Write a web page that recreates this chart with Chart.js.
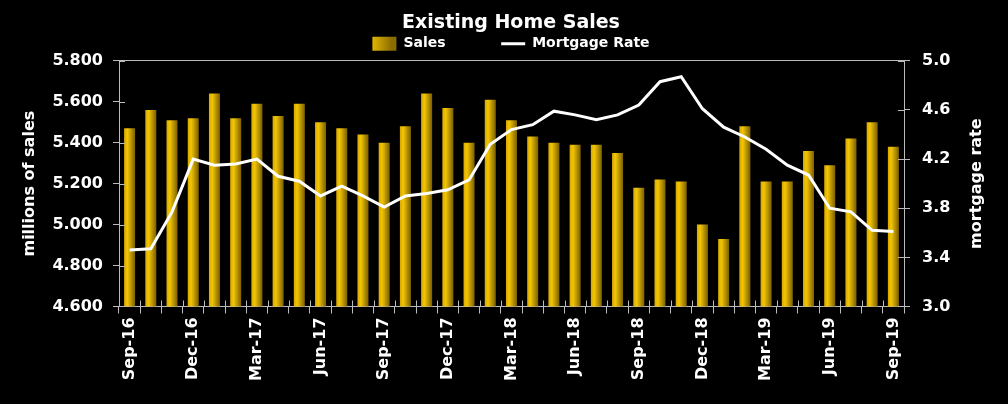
<!DOCTYPE html>
<html>
<head>
<meta charset="utf-8">
<script src="https://cdn.jsdelivr.net/npm/chart.js@4.4.1/dist/chart.umd.min.js"></script>
<style>
  html, body { margin: 0; padding: 0; background: #000; }
  #wrap { width: 1008px; height: 404px; }
</style>
</head>
<body>
<div id="wrap"><canvas id="homeSales"></canvas></div>
<script>
// monthly, Sep-16 .. Sep-19
var months = ["Sep-16","Oct-16","Nov-16","Dec-16","Jan-17","Feb-17","Mar-17","Apr-17","May-17","Jun-17",
    "Jul-17","Aug-17","Sep-17","Oct-17","Nov-17","Dec-17","Jan-18","Feb-18","Mar-18","Apr-18",
    "May-18","Jun-18","Jul-18","Aug-18","Sep-18","Oct-18","Nov-18","Dec-18","Jan-19","Feb-19",
    "Mar-19","Apr-19","May-19","Jun-19","Jul-19","Aug-19","Sep-19"];
var sales = [5.47, 5.56, 5.51, 5.52, 5.64, 5.52, 5.59, 5.53, 5.59, 5.50,
    5.47, 5.44, 5.40, 5.48, 5.64, 5.57, 5.40, 5.61, 5.51, 5.43,
    5.40, 5.39, 5.39, 5.35, 5.18, 5.22, 5.21, 5.00, 4.93, 5.48,
    5.21, 5.21, 5.36, 5.29, 5.42, 5.50, 5.38];
var mortgageRate = [3.46, 3.47, 3.77, 4.20, 4.15, 4.16, 4.20, 4.06, 4.02, 3.90,
    3.98, 3.90, 3.81, 3.90, 3.92, 3.95, 4.03, 4.32, 4.44, 4.48,
    4.59, 4.56, 4.52, 4.56, 4.64, 4.83, 4.87, 4.61, 4.46, 4.38,
    4.28, 4.15, 4.07, 3.80, 3.77, 3.62, 3.61];
// only every third month gets a label
var shownLabels = ["Sep-16","Dec-16","Mar-17","Jun-17","Sep-17","Dec-17","Mar-18","Jun-18","Sep-18","Dec-18","Mar-19","Jun-19","Sep-19"];
var salesTicks = [4.6, 4.8, 5.0, 5.2, 5.4, 5.6, 5.8];
var rateTicks = [3.0, 3.4, 3.8, 4.2, 4.6, 5.0];

var FONT = "'DejaVu Sans', sans-serif";
var BAR_PCT = 0.52;
var AXIS_GREY = '#bbb';

function goldBar(ctx) {
    var chart = ctx.chart;
    var xs = chart.scales.x;
    if (!xs || !chart.chartArea || ctx.dataIndex === undefined) return '#e0b400';
    var cx = xs.getPixelForValue(ctx.dataIndex);
    var half = xs.width / months.length * BAR_PCT / 2;
    var g = chart.ctx.createLinearGradient(cx - half, 0, cx + half, 0);
    g.addColorStop(0, '#d8a800');
    g.addColorStop(0.3, '#f3c600');
    g.addColorStop(1, '#7a5f00');
    return g;
}

function legendGold(chart) {
    var a = chart.width / 2 - 136;
    var g = chart.ctx.createLinearGradient(a, 0, a + 24, 0);
    g.addColorStop(0, '#f3c600');
    g.addColorStop(1, '#8a6c00');
    return g;
}

// short inward tick marks and the rotated right axis title
var axisExtras = {
    id: 'axisExtras',
    afterDraw: function (chart) {
        var c = chart.ctx, a = chart.chartArea;
        var xs = chart.scales.x, ys = chart.scales.y, y2 = chart.scales.y2;
        c.save();
        c.strokeStyle = AXIS_GREY;
        c.lineWidth = 1;
        c.beginPath();
        var step = xs.width / months.length;
        for (var i = 0; i <= months.length; i++) {
            var px = Math.round(xs.getPixelForValue(i) - step / 2) + 0.5;
            c.moveTo(px, a.bottom);
            c.lineTo(px, a.bottom - 6);
        }
        salesTicks.forEach(function (v) {
            var py = Math.round(ys.getPixelForValue(v)) + 0.5;
            c.moveTo(a.left, py);
            c.lineTo(a.left + 6, py);
        });
        rateTicks.forEach(function (v) {
            var py = Math.round(y2.getPixelForValue(v)) + 0.5;
            c.moveTo(a.right, py);
            c.lineTo(a.right - 6, py);
        });
        c.stroke();

        c.fillStyle = '#fff';
        c.font = 'bold 16px ' + FONT;
        c.textAlign = 'center';
        c.textBaseline = 'middle';
        c.translate(y2.right - 31, (a.top + a.bottom) / 2);
        c.rotate(-Math.PI / 2);
        c.fillText('mortgage rate', 0, 0);
        c.restore();
    }
};

Chart.defaults.font.family = FONT;
Chart.defaults.color = '#fff';

new Chart(document.getElementById("homeSales"), {
    data: {
        labels: months,
        datasets: [{
            type: 'line',
            label: 'Mortgage Rate',
            data: mortgageRate,
            yAxisID: 'y2',
            borderColor: '#fff',
            backgroundColor: '#fff',
            borderWidth: 3,
            pointRadius: 0,
            tension: 0,
            order: 0
        }, {
            type: 'bar',
            label: 'Sales',
            data: sales,
            yAxisID: 'y',
            backgroundColor: goldBar,
            barPercentage: BAR_PCT,
            categoryPercentage: 1.0,
            order: 1
        }]
    },
    plugins: [axisExtras],
    options: {
        responsive: true,
        maintainAspectRatio: false,
        animation: false,
        layout: { padding: { left: 14, right: 0, top: 0, bottom: 19 } },
        plugins: {
            title: {
                display: true,
                text: 'Existing Home Sales',
                color: '#fff',
                font: { size: 19, weight: 'bold' },
                padding: { top: 12, bottom: 0 }
            },
            legend: {
                display: true,
                labels: {
                    color: '#fff',
                    font: { size: 14, weight: 'bold' },
                    usePointStyle: true,
                    pointStyleWidth: 24,
                    boxHeight: 14,
                    padding: 2,
                    generateLabels: function (chart) {
                        return [{
                            text: 'Sales\u00a0\u00a0\u00a0\u00a0\u00a0\u00a0\u00a0\u00a0\u00a0\u00a0\u00a0', fillStyle: legendGold(chart),
                            strokeStyle: 'transparent', lineWidth: 0, pointStyle: 'rect',
                            datasetIndex: 1, fontColor: '#fff'
                        }, {
                            text: 'Mortgage Rate', fillStyle: '#fff', strokeStyle: '#fff',
                            lineWidth: 3, pointStyle: 'line', datasetIndex: 0, fontColor: '#fff'
                        }];
                    }
                }
            },
            tooltip: { enabled: false }
        },
        scales: {
            x: {
                offset: true,
                grid: {
                    offset: true,
                    drawOnChartArea: false,
                    color: AXIS_GREY,
                    tickLength: 7
                },
                border: { color: AXIS_GREY, width: 1 },
                ticks: {
                    autoSkip: false,
                    maxRotation: 90,
                    minRotation: 90,
                    padding: 4,
                    color: '#fff',
                    font: { size: 16, weight: 'bold' },
                    callback: function (v, i) {
                        var m = months[i];
                        return shownLabels.indexOf(m) >= 0 ? m : '';
                    }
                }
            },
            y: {
                position: 'left',
                min: salesTicks[0],
                max: salesTicks[salesTicks.length - 1],
                afterBuildTicks: function (s) { s.ticks = salesTicks.map(function (v) { return { value: v }; }); },
                grid: {
                    color: function (c) { return c.tick && c.tick.value === 5.8 ? AXIS_GREY : 'transparent'; },
                    tickColor: AXIS_GREY,
                    tickLength: 6
                },
                border: { color: AXIS_GREY, width: 1 },
                ticks: {
                    color: '#fff',
                    padding: 10,
                    font: { size: 16, weight: 'bold' },
                    callback: function (v) { return v.toFixed(3); }
                },
                title: {
                    display: true,
                    text: 'millions of sales',
                    color: '#fff',
                    font: { size: 16, weight: 'bold' },
                    padding: { top: 6, bottom: 4 }
                },
                afterFit: function (s) { s.width = 105; }
            },
            y2: {
                position: 'right',
                min: rateTicks[0],
                max: rateTicks[rateTicks.length - 1],
                afterBuildTicks: function (s) { s.ticks = rateTicks.map(function (v) { return { value: v }; }); },
                grid: {
                    drawOnChartArea: false,
                    color: AXIS_GREY,
                    tickLength: 6
                },
                border: { color: AXIS_GREY, width: 1 },
                ticks: {
                    color: '#fff',
                    padding: 12,
                    font: { size: 16, weight: 'bold' },
                    callback: function (v) { return v.toFixed(1); }
                },
                afterFit: function (s) { s.width = 104; }
            }
        }
    }
});
</script>
</body>
</html>
